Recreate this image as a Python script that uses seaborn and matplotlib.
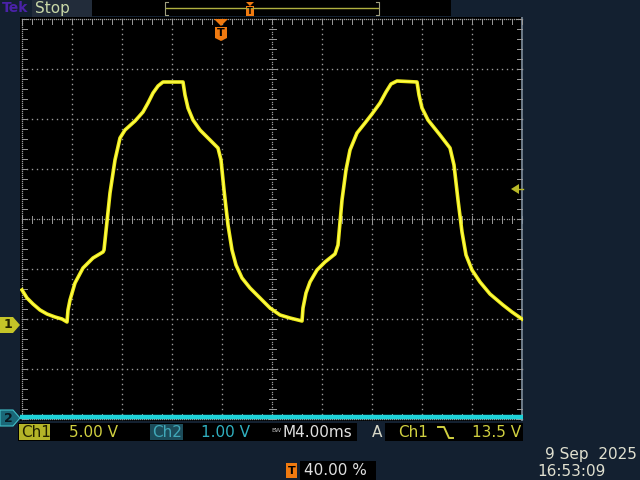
import numpy as np
import pandas as pd
import matplotlib
matplotlib.use("Agg")
import matplotlib.pyplot as plt
import seaborn as sns
from matplotlib.patches import Rectangle, Polygon
from matplotlib.lines import Line2D

ch1_time_ms = [-16.0, -15.6, -15.12, -14.56, -14.0, -13.36, -12.8, -12.4, -12.32, -12.16,
               -11.76, -11.12, -10.32, -9.52, -9.44, -8.96, -8.56, -8.16, -7.76, -6.96,
               -6.32, -5.92, -5.52, -5.12, -4.72, -3.12, -2.96, -2.72, -2.32, -1.76,
               -0.96, -0.32, -0.08, 0.16, 0.48, 0.8, 1.12, 1.6, 2.24, 3.04,
               3.84, 4.64, 5.44, 6.4, 6.48, 6.72, 7.04, 7.6, 8.24, 9.04,
               9.28, 9.6, 9.92, 10.24, 10.8, 11.44, 12.0, 12.64, 13.12, 13.52,
               14.0, 15.6, 15.76, 16.0, 16.48, 17.44, 18.24, 18.56, 18.88, 19.2,
               19.52, 20.0, 20.64, 21.44, 22.48, 23.2, 24.0]
ch1_volts = [3.4, 2.6, 2.0, 1.4, 1.0, 0.7, 0.5, 0.2, 1.4, 2.4,
             4.1, 5.6, 6.6, 7.2, 7.4, 13.1, 16.4, 18.6, 19.4, 20.3,
             21.2, 22.1, 23.1, 23.8, 24.2, 24.2, 22.9, 21.6, 20.4, 19.4,
             18.4, 17.6, 16.4, 13.4, 9.9, 7.4, 5.9, 4.6, 3.6, 2.6,
             1.6, 0.9, 0.6, 0.3, 1.6, 3.1, 4.2, 5.4, 6.2, 7.0,
             7.9, 12.4, 15.4, 17.4, 19.1, 20.1, 21.0, 22.1, 23.2, 24.0,
             24.3, 24.2, 22.9, 21.6, 20.4, 18.9, 17.6, 15.9, 12.4, 9.2,
             6.9, 5.4, 4.2, 3.0, 1.9, 1.2, 0.5]
ch2_time_ms = [-16.0, 24.0]
ch2_volts = [0.0, 0.0]

ch1_label = "Ch1"
ch1_scale_text = "5.00 V"
ch2_label = "Ch2"
ch2_scale_text = "1.00 V"
timebase_text = "M4.00ms"
trigger_text = "13.5 V"
trigger_pos_text = "40.00 %"
date_text = "9 Sep  2025"
time_text = "16:53:09"
status_text = "Stop"

CH1_V_PER_DIV = 5.0
CH2_V_PER_DIV = 1.0
CH1_OFFSET_DIV = -2.1
CH2_OFFSET_DIV = -3.96
MS_PER_DIV = 4.0
TRIGGER_LEVEL_V = 13.5

df1 = pd.DataFrame({"t": ch1_time_ms,
                    "div": np.array(ch1_volts) / CH1_V_PER_DIV + CH1_OFFSET_DIV})
df2 = pd.DataFrame({"t": ch2_time_ms,
                    "div": np.array(ch2_volts) / CH2_V_PER_DIV + CH2_OFFSET_DIV})

# ---------------- figure ----------------
W, H = 640, 480
BG = "#132030"
fig = plt.figure(figsize=(6.4, 4.8), dpi=100, facecolor=BG)


def fx(x):
    return x / W


def fy(y):
    return 1 - y / H


def rect(x0, y0, x1, y1, color, **kw):
    fig.patches.append(Rectangle((fx(x0), fy(y1)), (x1 - x0) / W, (y1 - y0) / H,
                                 transform=fig.transFigure, facecolor=color,
                                 edgecolor=kw.pop("ec", "none"), lw=kw.pop("lw", 0), **kw))


def poly(pts, color, **kw):
    fig.patches.append(Polygon([(fx(x), fy(y)) for x, y in pts], closed=True,
                               transform=fig.transFigure, facecolor=color,
                               edgecolor=kw.pop("ec", "none"), lw=kw.pop("lw", 0), **kw))


def txt(x, y, s, color, size=11, ha="left", **kw):
    fig.text(fx(x), fy(y), s, color=color, fontsize=size, ha=ha, va="center",
             family="DejaVu Sans", **kw)


def line(xs, ys, color, lw=1.0):
    fig.lines.append(Line2D([fx(x) for x in xs], [fy(y) for y in ys],
                            transform=fig.transFigure, color=color, lw=lw))


# graticule axes: pixel x 20..523, y 17..421
ax = fig.add_axes([fx(20), fy(421), (523 - 20) / W, (421 - 17) / H])
ax.set_facecolor("black")
ax.set_xlim(-16.16, 24.08)
ax.set_ylim(-4.04, 4.04)
ax.set_xticks([])
ax.set_yticks([])
for s in ax.spines.values():
    s.set_visible(False)

GRID = "#9a9a9a"
xdiv = np.arange(-16, 24.01, MS_PER_DIV)
ydiv = np.arange(-4, 4.01, 1.0)
center_t = 4.0
# interior grid dots
for t in xdiv[1:-1]:
    if abs(t - center_t) < 1e-6:
        continue
    ys = np.arange(-4, 4.001, 0.1)
    ax.plot(np.full_like(ys, t), ys, ls="none", marker="s", ms=1.0, mew=0, color=GRID)
for d in ydiv[1:-1]:
    if abs(d) < 1e-6:
        continue
    xs = np.arange(-16, 24.001, 0.4)
    ax.plot(xs, np.full_like(xs, d), ls="none", marker="s", ms=1.0, mew=0, color=GRID)
# center axes: dense dots + ticks
xs = np.arange(-16, 24.001, 0.2)
ax.plot(xs, np.zeros_like(xs), ls="none", marker="s", ms=0.9, mew=0, color=GRID)
ys = np.arange(-4, 4.001, 0.05)
ax.plot(np.full_like(ys, center_t), ys, ls="none", marker="s", ms=0.9, mew=0, color=GRID)
for t in np.arange(-16, 24.001, 0.8):
    ax.plot([t, t], [-0.07, 0.07], color=GRID, lw=0.7)
for d in np.arange(-4, 4.001, 0.2):
    ax.plot([center_t - 0.28, center_t + 0.28], [d, d], color=GRID, lw=0.7)
# border dotted + inward ticks
xs = np.arange(-16, 24.001, 0.16)
for d in (-4, 4):
    ax.plot(xs, np.full_like(xs, d), ls="none", marker="s", ms=0.9, mew=0, color=GRID)
ys = np.arange(-4, 4.001, 0.04)
ax.plot(np.full_like(ys, -16), ys, ls="none", marker="s", ms=0.9, mew=0, color=GRID)
ax.plot([24.0, 24.0], [-4.04, 4.04], color="#7f8fa0", lw=1.2)
for t in np.arange(-16, 24.001, 0.8):
    ax.plot([t, t], [3.9, 4.0], color=GRID, lw=0.7)
    ax.plot([t, t], [-4.0, -3.9], color=GRID, lw=0.7)
for d in np.arange(-4, 4.001, 0.2):
    ax.plot([-16, -15.6], [d, d], color=GRID, lw=0.7)
    ax.plot([23.6, 24.0], [d, d], color=GRID, lw=0.7)

# traces
sns.lineplot(data=df2, x="t", y="div", ax=ax, color="#1ed2d8", lw=3.2,
             sort=False, estimator=None, legend=False)
sns.lineplot(data=df1, x="t", y="div", ax=ax, color="#eeea1a", lw=2.6,
             sort=False, estimator=None, legend=False)
sns.lineplot(data=df1, x="t", y="div", ax=ax, color="#ffff50", lw=0.9,
             sort=False, estimator=None, legend=False)
ax.set_xlabel("")
ax.set_ylabel("")

# ---------------- top bar ----------------
txt(2, 8, "Tek", "#4a22a8", size=10, fontweight="bold")
rect(32, 0, 92, 17, "#222c3a")
txt(35, 8, status_text, "#c8d8a8", size=11)
rect(92, 0, 451, 16, "black")
line([166, 378], [8, 8], "#b0b040", lw=1.0)
line([168, 165, 165, 168], [2, 2, 15, 15], "#a0a080", lw=0.8)
line([376, 379, 379, 376], [2, 2, 15, 15], "#a0a080", lw=0.8)
poly([(246, 2), (254, 2), (250, 6)], "#f07a10")
rect(246, 6, 254, 16, "#f07a10")
txt(250, 11, "T", "black", size=6, ha="center", fontweight="bold")

# trigger position marker in graticule
poly([(214, 19), (228, 19), (221, 26)], "#f07a10")
poly([(215, 27), (227, 27), (227, 38), (221, 41), (215, 38)], "#f07a10")
txt(221, 33, "T", "black", size=8, ha="center", fontweight="bold")

# trigger level arrow (right)
poly([(511, 189), (519, 184), (519, 194)], "#b8b828")
line([519, 523], [189, 189], "#b8b828", lw=1.0)

# channel ground markers
poly([(0, 317), (13, 317), (20, 325), (13, 333), (0, 333)], "#c4c428")
txt(8, 325, "1", "#202000", size=9, ha="center", fontweight="bold")
poly([(0, 410), (13, 410), (20, 418), (13, 426), (0, 426)], "#1a6878", ec="#40c0c8", lw=0.8)
txt(8, 418, "2", "#08161e", size=9, ha="center", fontweight="bold")

# ---------------- status bar ----------------
rect(18, 423, 523, 441, "black")
rect(19, 424, 50, 440, "#b4b428")
txt(21, 432.5, ch1_label, "#202000", size=11)
txt(69, 432.5, ch1_scale_text, "#d0d040", size=11)
rect(150, 424, 183, 440, "#1c4c5a")
txt(152, 432.5, ch2_label, "#40a8b8", size=11)
txt(201, 432.5, ch2_scale_text, "#30b0c0", size=11)
txt(271, 431, "BW", "#b8b8b8", size=4.5)
txt(283, 432.5, timebase_text, "#e0e0e0", size=11)
rect(357, 423, 385, 441, BG)
txt(372, 432.5, "A", "#d8d8c8", size=11)
txt(398, 432.5, ch1_label, "#d0d040", size=11)
line([438, 444, 449, 453], [427, 427, 438, 438], "#d0d040", lw=1.4)
txt(521, 432.5, trigger_text, "#d0d040", size=11, ha="right")

# bottom: trigger position + date
rect(286, 463, 297, 478, "#f07a10")
txt(291.5, 470.5, "T", "black", size=8, ha="center", fontweight="bold")
rect(300, 461, 376, 480, "black")
txt(304, 470.5, trigger_pos_text, "#e0e0e0", size=11)
txt(637, 455, date_text, "#e0e0d0", size=11, ha="right")
txt(537, 471, time_text, "#e0e0d0", size=11)

fig.savefig("out.png", dpi=100, facecolor=BG)
